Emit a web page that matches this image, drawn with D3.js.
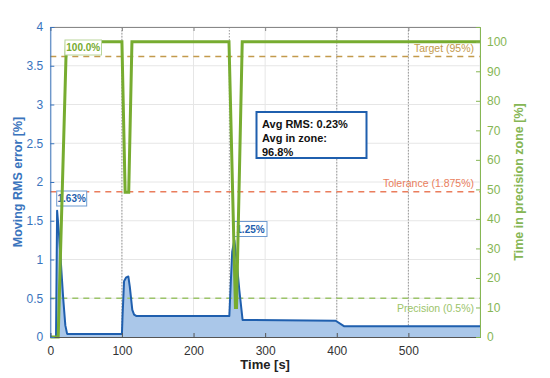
<!DOCTYPE html>
<html><head><meta charset="utf-8">
<script src="https://cdn.jsdelivr.net/npm/d3@7"></script>
<style>body{margin:0;background:#fff}svg{display:block;font-family:"Liberation Sans",Arial,sans-serif}</style>
</head><body><svg id="c" width="550" height="378"></svg>
<script>
// data
const rmsT = [0, 8, 9.5, 12, 14.5, 18, 21, 23.5, 100, 101, 103, 106, 109, 111, 114.5, 117, 120.5, 250, 252, 254, 257, 260, 264, 268.5, 398.5, 410, 600];
const rmsV = [0, 0, 1.63, 1.35, 1.0, 0.5, 0.15, 0.04, 0.04, 0.3, 0.72, 0.77, 0.78, 0.65, 0.35, 0.29, 0.27, 0.27, 0.7, 1.1, 1.25, 1.0, 0.6, 0.22, 0.21, 0.14, 0.14];
const zoneT = [0, 11, 22.5, 100, 104.5, 109.5, 114, 249.5, 258.5, 260, 268, 600];
const zoneV = [0, 0, 100, 100, 49, 49, 100, 100, 10, 10, 100, 100];
const xTicks = [0, 100, 200, 300, 400, 500];
const yLTicks = [0, 0.5, 1, 1.5, 2, 2.5, 3, 3.5, 4];
const yRTicks = [0, 10, 20, 30, 40, 50, 60, 70, 80, 90, 100];
const eventLines = [100, 250, 400, 500];
const refLines = [
  {label: "Target (95%)", axis: "R", value: 95},
  {label: "Tolerance (1.875%)", axis: "L", value: 1.875},
  {label: "Precision (0.5%)", axis: "L", value: 0.5}
];
const peakLabels = [
  {text: "100.0%", t: 20.5, v: 100, axis: "R"},
  {text: "1.63%", t: 9.5, v: 1.63, axis: "L"},
  {text: "1.25%", t: 257, v: 1.25, axis: "L"}
];
const infoLines = ["Avg RMS: 0.23%", "Avg in zone:", "96.8%"];

const L = 50.3, R = 480, T = 27, B = 337;
const svg = d3.select("#c");
const x = d3.scaleLinear().domain([0, 600]).range([L, R]);
const yL = d3.scaleLinear().domain([0, 4]).range([B, T]);
const yR = d3.scaleLinear().domain([0, 105]).range([B, T]);

const BLUE = "#1f5fae", BLUEAX = "#3a74bd", FILL = "#aac7e9";
const GREEN = "#77ac30", GREENAX = "#86b654";
const colors = {"Target (95%)": "#c39a4c", "Tolerance (1.875%)": "#ea7d5c", "Precision (0.5%)": "#9cc46a"};

// grid
const g = svg.append("g");
g.selectAll(".hg").data(yLTicks).join("line").attr("x1", L).attr("x2", R)
  .attr("y1", d => yL(d)).attr("y2", d => yL(d)).attr("stroke", "#e6e6e6").attr("stroke-width", 1);
g.selectAll(".vg").data(xTicks.concat([600])).join("line").attr("y1", T).attr("y2", B)
  .attr("x1", d => x(d)).attr("x2", d => x(d)).attr("stroke", "#e6e6e6").attr("stroke-width", 1);
g.selectAll(".ev").data(eventLines).join("line").attr("y1", T).attr("y2", B)
  .attr("x1", d => x(d)).attr("x2", d => x(d)).attr("stroke", "#9a9a9a").attr("stroke-width", 1).attr("stroke-dasharray", "1.5,1.5");

// area + line
const rms = rmsT.map((t, i) => ({t, v: rmsV[i]}));
const zone = zoneT.map((t, i) => ({t, v: zoneV[i]}));
svg.append("path").datum(rms).attr("fill", FILL)
  .attr("d", d3.area().x(d => x(d.t)).y0(yL(0)).y1(d => yL(d.v)));

// reference lines
refLines.forEach(r => {
  const yy = r.axis === "L" ? yL(r.value) : yR(r.value);
  svg.append("line").attr("x1", L).attr("x2", R).attr("y1", yy).attr("y2", yy)
    .attr("stroke", colors[r.label]).attr("stroke-width", 1.5).attr("stroke-dasharray", "6,5");
  const below = r.label.startsWith("Precision");
  svg.append("text").attr("x", 474).attr("y", below ? yy + 13.5 : yy - 4.5).attr("text-anchor", "end")
    .attr("font-size", 10.5).attr("fill", colors[r.label]).text(r.label);
});

svg.append("path").datum(rms).attr("fill", "none").attr("stroke", BLUE).attr("stroke-width", 2).attr("stroke-linejoin", "round")
  .attr("d", d3.line().x(d => x(d.t)).y(d => yL(d.v)));

const boxPos = {"100.0%": [65, 40, 36.5, 15], "1.63%": [56.7, 191, 30, 15], "1.25%": [234, 221.5, 33, 15]};
function drawLabel(p) {
  const b = boxPos[p.text];
  const isG = p.axis === "R";
  svg.append("rect").attr("x", b[0]).attr("y", b[1]).attr("width", b[2]).attr("height", b[3])
    .attr("fill", "#fff").attr("stroke", isG ? "#b9d59a" : "#6f9bd0").attr("stroke-width", 1);
  svg.append("text").attr("x", b[0] + b[2] / 2).attr("y", b[1] + 11).attr("text-anchor", "middle")
    .attr("font-size", 10).attr("font-weight", "bold").attr("fill", isG ? GREEN : BLUE).text(p.text);
}
// blue peak labels under the green line, green label on top
peakLabels.filter(p => p.axis === "L").forEach(drawLabel);

svg.append("path").datum(zone).attr("fill", "none").attr("stroke", GREEN).attr("stroke-width", 3).attr("stroke-linejoin", "miter")
  .attr("d", d3.line().x(d => x(d.t)).y(d => yR(d.v)));

peakLabels.filter(p => p.axis === "R").forEach(drawLabel);

// axes
const ax = svg.append("g").attr("transform", `translate(0,${B})`)
  .call(d3.axisBottom(x).tickValues(xTicks).tickSize(-4).tickPadding(9).tickFormat(d3.format("d")));
ax.select(".domain").attr("stroke", "#555");
ax.selectAll(".tick line").attr("stroke", "#555");
ax.selectAll("text").attr("font-size", 12).attr("fill", "#333").attr("font-family", "Liberation Sans, Arial, sans-serif");

const at = svg.append("g").attr("transform", `translate(0,${T})`)
  .call(d3.axisTop(x).tickValues(xTicks).tickSize(-4).tickFormat(""));
at.select(".domain").attr("stroke", "#888");
at.selectAll(".tick line").attr("stroke", "#888");

const al = svg.append("g").attr("transform", `translate(${L},0)`)
  .call(d3.axisLeft(yL).tickValues(yLTicks).tickSize(-4).tickPadding(7).tickFormat(d3.format("~g")));
al.select(".domain").attr("stroke", BLUEAX);
al.selectAll(".tick line").attr("stroke", BLUEAX);
al.selectAll("text").attr("font-size", 12).attr("fill", BLUEAX).attr("font-family", "Liberation Sans, Arial, sans-serif");

const ar = svg.append("g").attr("transform", `translate(${R},0)`)
  .call(d3.axisRight(yR).tickValues(yRTicks).tickSize(-4).tickPadding(7).tickFormat(d3.format("d")));
ar.select(".domain").attr("stroke", GREENAX);
ar.selectAll(".tick line").attr("stroke", GREENAX);
ar.selectAll("text").attr("font-size", 12).attr("fill", GREENAX).attr("font-family", "Liberation Sans, Arial, sans-serif");

// axis titles
svg.append("text").attr("transform", `translate(22,${(T + B) / 2}) rotate(-90)`).attr("text-anchor", "middle")
  .attr("font-size", 12.5).attr("font-weight", "bold").attr("fill", BLUEAX).text("Moving RMS error [%]");
svg.append("text").attr("transform", `translate(523,${(T + B) / 2}) rotate(-90)`).attr("text-anchor", "middle")
  .attr("font-size", 12.5).attr("font-weight", "bold").attr("fill", GREENAX).text("Time in precision zone [%]");
svg.append("text").attr("x", (L + R) / 2).attr("y", 369).attr("text-anchor", "middle")
  .attr("font-size", 13).attr("font-weight", "bold").attr("fill", "#222").text("Time [s]");

// info box
svg.append("rect").attr("x", 256.5).attr("y", 112).attr("width", 110).attr("height", 46)
  .attr("fill", "#fff").attr("stroke", "#1f5fae").attr("stroke-width", 2);
svg.selectAll(".info").data(infoLines).join("text").attr("x", 262).attr("y", (d, i) => 127.5 + i * 14)
  .attr("font-size", 11).attr("font-weight", "bold").attr("fill", "#111").text(d => d);
</script></body></html>
